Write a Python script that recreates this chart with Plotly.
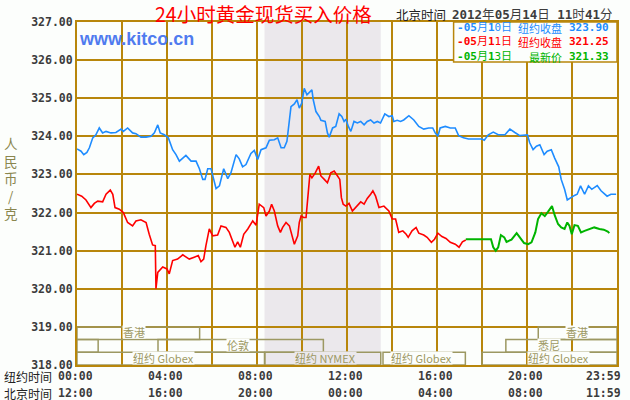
import plotly.graph_objects as go

# ---------------- data ----------------
blue_t = [0.00, 0.18, 0.30, 0.44, 0.55, 0.70, 0.84, 0.99, 1.14, 1.29, 1.51, 1.73, 1.96, 2.06, 2.25,
          2.47, 2.62, 2.84, 3.07, 3.29, 3.44, 3.59, 3.70, 3.88, 4.06, 4.25, 4.40, 4.55, 4.84, 5.07,
          5.29, 5.44, 5.59, 5.69, 5.81, 5.96, 6.06, 6.18, 6.33, 6.52, 6.70, 6.84, 7.07, 7.21, 7.36,
          7.51, 7.73, 7.88, 8.03, 8.18, 8.40, 8.55, 8.77, 8.92, 9.07, 9.21, 9.33, 9.44, 9.51, 9.66,
          9.78, 9.88, 9.99, 10.10, 10.22,
          10.44, 10.50, 10.62, 10.77, 10.84, 11.03, 11.13, 11.21, 11.36, 11.50, 11.65, 11.77, 11.87,
          11.95, 12.06, 12.17, 12.31, 12.46, 12.61, 12.76, 12.90, 13.05, 13.20, 13.35, 13.49, 13.68,
          13.86, 14.01, 14.08, 14.23, 14.38, 14.52, 14.75, 14.97, 15.19, 15.41, 15.63, 15.81, 15.92,
          16.04, 16.14, 16.37, 16.59, 16.81, 16.96, 17.18, 17.40, 17.69, 17.99, 18.10, 18.28, 18.50,
          18.72, 19.02, 19.24, 19.46, 19.68, 20.02, 20.12, 20.27, 20.42, 20.57, 20.76, 20.90, 21.08,
          21.23, 21.41, 21.52, 21.67, 21.79, 21.94, 22.11, 22.23, 22.38, 22.56, 22.73, 22.88, 23.12,
          23.29, 23.44, 23.56, 23.73, 23.96]
blue_v = [323.67, 323.61, 323.52, 323.58, 323.70, 323.96, 324.04, 324.22, 324.09, 324.13, 324.09,
          324.10, 324.19, 324.13, 324.22, 324.09, 324.07, 323.98, 323.98, 324.00, 324.09, 324.30,
          324.09, 324.04, 323.96, 323.65, 323.52, 323.35, 323.50, 323.35, 323.35, 323.15, 322.87,
          322.87, 323.15, 323.15, 322.91, 322.63, 322.70, 323.15, 322.89, 323.04, 323.52, 323.41,
          323.20, 323.26, 323.55, 323.63, 323.39, 323.65, 323.70, 323.90, 323.91, 323.96, 323.70,
          323.70, 323.87, 324.52, 324.78, 324.85, 324.96, 324.74, 324.87, 325.26, 325.09,
          325.22, 324.96, 324.65, 324.52, 324.42, 324.39, 324.09, 323.98, 324.22, 324.26, 324.59,
          324.52, 324.39, 324.45, 324.26, 324.13, 324.39, 324.35, 324.39, 324.30, 324.39, 324.43,
          324.35, 324.39, 324.35, 324.59, 324.52, 324.54, 324.39, 324.42, 324.39, 324.43, 324.54,
          324.43, 324.26, 324.19, 324.22, 324.22, 324.09, 324.00, 324.22, 324.26, 324.22, 324.22,
          324.02, 323.96, 323.93, 323.93, 323.93, 323.90, 324.04, 324.11, 324.04, 324.04, 324.19,
          324.10, 324.02, 324.04, 323.83, 323.65, 323.74, 323.78, 323.52, 323.61, 323.65, 323.43,
          323.20, 322.87, 322.61, 322.33, 322.39, 322.45, 322.48, 322.70, 322.48, 322.70, 322.61,
          322.71, 322.57, 322.48, 322.43, 322.48, 322.48]

red_t = [0.00, 0.21, 0.40, 0.62, 0.77, 0.92, 1.14, 1.29, 1.48, 1.59, 1.69, 1.88, 2.06, 2.25, 2.47,
         2.62, 2.84, 3.07, 3.21, 3.36, 3.48, 3.51, 3.59, 3.81, 4.00, 4.10, 4.25, 4.47, 4.70, 4.84,
         4.99, 5.21, 5.39, 5.51, 5.63, 5.73, 5.88, 6.03, 6.25, 6.40, 6.62, 6.77, 6.92, 7.02, 7.14,
         7.26, 7.41, 7.59, 7.81, 7.96, 8.10, 8.30, 8.40, 8.55, 8.65, 8.77, 8.92, 9.04, 9.14, 9.29,
         9.44, 9.54, 9.66, 9.81, 9.88, 9.96, 10.07, 10.18, 10.25,
         10.35, 10.44, 10.59, 10.74, 10.84, 10.99, 11.13, 11.28, 11.43, 11.58, 11.68, 11.75, 11.83,
         11.95, 12.09, 12.24, 12.42, 12.61, 12.76, 12.90, 13.05, 13.15, 13.27, 13.42, 13.64, 13.86,
         14.01, 14.16, 14.30, 14.48, 14.63, 14.72, 14.89, 15.07, 15.19, 15.41, 15.56, 15.75, 15.89,
         16.04, 16.22, 16.40, 16.59, 16.81, 16.98, 17.13, 17.28]
red_v = [322.48, 322.43, 322.33, 322.13, 322.24, 322.30, 322.28, 322.48, 322.59, 322.48, 322.13,
         322.09, 322.00, 321.74, 321.65, 321.78, 321.81, 321.74, 321.43, 321.15, 321.13, 320.00,
         320.43, 320.57, 320.52, 320.39, 320.74, 320.78, 320.89, 320.83, 320.78, 320.83, 320.87,
         320.71, 320.78, 321.13, 321.57, 321.39, 321.41, 321.65, 321.61, 321.48, 321.22, 321.09,
         321.23, 321.09, 321.43, 321.57, 321.78, 321.67, 322.22, 322.13, 321.91, 322.04, 322.22,
         322.04, 321.65, 321.48, 321.61, 321.74, 321.65, 321.43, 321.17, 321.39, 321.74, 321.91,
         321.87, 321.87, 322.30,
         323.00, 322.91, 323.04, 323.22, 322.96, 322.87, 322.78, 323.04, 323.09, 322.96, 322.87,
         322.39, 322.22, 322.17, 322.24, 322.04, 322.17, 322.28, 322.22, 322.37, 322.48, 322.57,
         322.43, 322.13, 322.17, 322.04, 321.83, 321.83, 321.48, 321.52, 321.43, 321.35, 321.52,
         321.61, 321.46, 321.41, 321.35, 321.22, 321.30, 321.46, 321.37, 321.32, 321.22, 321.17,
         321.09, 321.23, 321.28]

green_t = [17.28, 18.40, 18.50, 18.61, 18.72, 18.84, 18.99, 19.09, 19.31, 19.54, 19.68, 19.87,
           20.05, 20.20, 20.37, 20.49, 20.64, 20.79, 20.93, 21.11, 21.23, 21.38, 21.52, 21.67,
           21.79, 21.89, 21.99, 22.11, 22.26, 22.40, 22.56, 22.76, 22.99, 23.22, 23.41, 23.59, 23.66]
green_v = [321.30, 321.30, 321.09, 321.00, 321.09, 321.41, 321.35, 321.23, 321.29, 321.46, 321.35,
           321.20, 321.17, 321.22, 321.48, 321.83, 321.98, 321.91, 322.02, 322.17, 321.93, 321.70,
           321.61, 321.57, 321.74, 321.65, 321.43, 321.67, 321.65, 321.48, 321.52, 321.57, 321.61,
           321.57, 321.55, 321.50, 321.46]

y_range = [318, 327]
x_tick_hours = [0, 4, 8, 12, 16, 20, 24]
ny_labels = ["00:00", "04:00", "08:00", "12:00", "16:00", "20:00", "23:59"]
bj_labels = ["12:00", "16:00", "20:00", "00:00", "04:00", "08:00", "11:59"]

legend_dates = ["05月10日", "05月11日", "05月13日"]
legend_kinds = ["纽约收盘", "纽约收盘", "最新价"]
legend_values = [323.90, 321.25, 321.33]

nymex_window = [8.333, 13.5]

session_names = ["香港", "香港", "伦敦", "悉尼", "", "纽约 Globex", "纽约 NYMEX", "纽约 Globex", "纽约 Globex"]
session_rows = [0, 0, 1, 1, 1, 2, 2, 2, 2]
session_start = [0.0, 20.5, 3.6, 19.06, 0.0, 0.0, 8.35, 13.6, 18.0]
session_end = [5.45, 24.0, 10.95, 24.0, 0.94, 8.333, 13.5, 17.26, 24.0]
session_label_at = [2.53, 22.2, 7.17, 20.96, None, 3.84, 11.04, 15.29, 21.42]

y_title_chars = ["人", "民", "币", "/", "克"]

# ---------------- layout helpers ----------------
W, H = 630, 400
L, R, T, B = 77, 11, 22, 35
PW, PH = W - L - R, H - T - B


def px(x):
    return (x - L) / PW


def py(y):
    return (H - B - y) / PH


GOLD = "#b8860b"
OLIVE = "#9c9862"
BG = "#fcfefc"
SHADE = "#ebe8ec"
MONO = "DejaVu Sans Mono, Noto Sans CJK SC"
CJK = "Noto Sans CJK SC"
BLUE = "#1e8cff"
RED = "#ff0000"
GREEN = "#00b400"
series_colors = [BLUE, RED, GREEN]

fig = go.Figure()
fig.add_trace(go.Scatter(x=blue_t, y=blue_v, mode="lines", line=dict(color=BLUE, width=1.6),
                         hoverinfo="skip", showlegend=False))
fig.add_trace(go.Scatter(x=red_t, y=red_v, mode="lines", line=dict(color=RED, width=1.6),
                         hoverinfo="skip", showlegend=False))
fig.add_trace(go.Scatter(x=green_t, y=green_v, mode="lines", line=dict(color=GREEN, width=2),
                         hoverinfo="skip", showlegend=False))

shapes = [dict(type="rect", xref="x", yref="paper", x0=nymex_window[0], x1=nymex_window[1],
               y0=0, y1=1, fillcolor=SHADE, line=dict(width=0), layer="below")]
row_h = 1.0 / 3
for name, row, s, e in zip(session_names, session_rows, session_start, session_end):
    shapes.append(dict(type="rect", xref="x", yref="y", x0=s, x1=e,
                       y0=319 - (row + 1) * row_h, y1=319 - row * row_h,
                       line=dict(color=OLIVE, width=1.5), layer="above"))
shapes.append(dict(type="rect", xref="paper", yref="paper", x0=px(455), x1=1, y0=py(62), y1=1,
                   fillcolor=BG, line=dict(color=GOLD, width=1.5), layer="above"))

ann = []
for name, row, pos in zip(session_names, session_rows, session_label_at):
    if pos is None:
        continue
    bg = SHADE if nymex_window[0] < pos < nymex_window[1] else BG
    ann.append(dict(x=pos, y=319 - (row + 0.5) * row_h, xref="x", yref="y", text=name,
                    showarrow=False, font=dict(family=CJK, size=11, color=OLIVE),
                    bgcolor=bg, borderpad=0, height=12, yshift=1))

# title & header
ann.append(dict(x=px(264), y=py(13), xref="paper", yref="paper", text="24小时黄金现货买入价格",
                showarrow=False, font=dict(family=CJK, size=19.5, color=RED), xanchor="center",
                yanchor="middle", height=22))
ann.append(dict(x=px(395), y=py(13.5), xref="paper", yref="paper", text="北京时间",
                showarrow=False, font=dict(family=CJK, size=12.5, color="#222222"),
                xanchor="left", yanchor="middle", height=16))
ann.append(dict(x=px(616), y=py(13.5), xref="paper", yref="paper",
                text="<b>2012</b>年<b>05</b>月<b>14</b>日 <b>11</b>时<b>41</b>分",
                showarrow=False, font=dict(family=MONO, size=12.5, color="#3c3c3c"),
                xanchor="right", yanchor="middle", height=16))
ann.append(dict(x=px(77), y=py(39), xref="paper", yref="paper", text="<b>www.kitco.cn</b>",
                showarrow=False, font=dict(family="Liberation Sans", size=18, color="#4f7bef"),
                xanchor="left", yanchor="middle"))

# legend: three columns, each one multi-line text block
col_date, col_kind, col_val = [], [], []
for i, (d, k, v) in enumerate(zip(legend_dates, legend_kinds, legend_values)):
    c = series_colors[i]
    dd = d.replace("05", "<b>05</b>", 1).replace("月1", "月<b>1</b>")
    col_date.append('<span style="color:%s"><b>-</b>%s</span>' % (c, dd))
    col_kind.append('<span style="color:%s">%s</span>' % (c, k))
    col_val.append('<span style="color:%s"><b>%.2f</b></span>' % (c, v))
leg_y = py(42.2)
ann.append(dict(x=px(456), y=leg_y, xref="paper", yref="paper", text="<br>".join(col_date),
                showarrow=False, font=dict(family=MONO, size=11, color=BLUE),
                xanchor="left", yanchor="middle", align="left"))
ann.append(dict(x=px(566), y=leg_y, xref="paper", yref="paper", text="<br>".join(col_kind),
                showarrow=False, font=dict(family=CJK, size=11, color=BLUE),
                xanchor="right", yanchor="middle", align="right"))
ann.append(dict(x=px(613), y=leg_y, xref="paper", yref="paper", text="<br>".join(col_val),
                showarrow=False, font=dict(family=MONO, size=11, color=BLUE),
                xanchor="right", yanchor="middle", align="right"))

# y axis title (stacked characters, one text block)
ann.append(dict(x=px(11), y=py(178), xref="paper", yref="paper",
                text="<br>".join(y_title_chars), showarrow=False,
                font=dict(family=CJK, size=13.5, color="#8a864e"),
                xanchor="center", yanchor="middle", align="center"))

# x labels (two time zones)
ann.append(dict(x=px(2), y=py(376), xref="paper", yref="paper", text="纽约时间", showarrow=False,
                font=dict(family=CJK, size=12, color="#222222"), xanchor="left", yanchor="middle",
                height=15))
ann.append(dict(x=px(2), y=py(392.5), xref="paper", yref="paper", text="北京时间", showarrow=False,
                font=dict(family=CJK, size=12, color="#222222"), xanchor="left", yanchor="middle",
                height=14))
for hr, a, b in zip(x_tick_hours, ny_labels, bj_labels):
    last = hr == x_tick_hours[-1]
    for lab, yy in ((a, 376), (b, 392.5)):
        ann.append(dict(x=hr, y=py(yy), xref="x", yref="paper", text="<b>%s</b>" % lab,
                        showarrow=False, font=dict(family=MONO, size=11.5, color="#3c3c3c"),
                        xanchor="right" if last else "center", xshift=6 if last else -2,
                        yanchor="middle", height=14))

fig.update_layout(
    width=W, height=H, autosize=False,
    margin=dict(l=L, r=R, t=T, b=B, pad=0),
    paper_bgcolor=BG, plot_bgcolor=BG,
    shapes=shapes, annotations=ann, showlegend=False,
    xaxis=dict(range=[0, 24], tick0=0, dtick=2, showticklabels=False, ticks="",
               showgrid=True, gridcolor=GOLD, gridwidth=1.5, zeroline=False,
               showline=True, mirror=True, linecolor=GOLD, linewidth=2, fixedrange=True),
    yaxis=dict(range=y_range, tick0=318, dtick=1, tickformat=".2f", ticks="",
               tickfont=dict(family="DejaVu Sans Mono", size=11.5, color="#3c3c3c", weight="bold"),
               showgrid=True, gridcolor=GOLD, gridwidth=1.5, zeroline=False,
               showline=True, mirror=True, linecolor=GOLD, linewidth=2, fixedrange=True),
)

fig.write_html("out.html")
